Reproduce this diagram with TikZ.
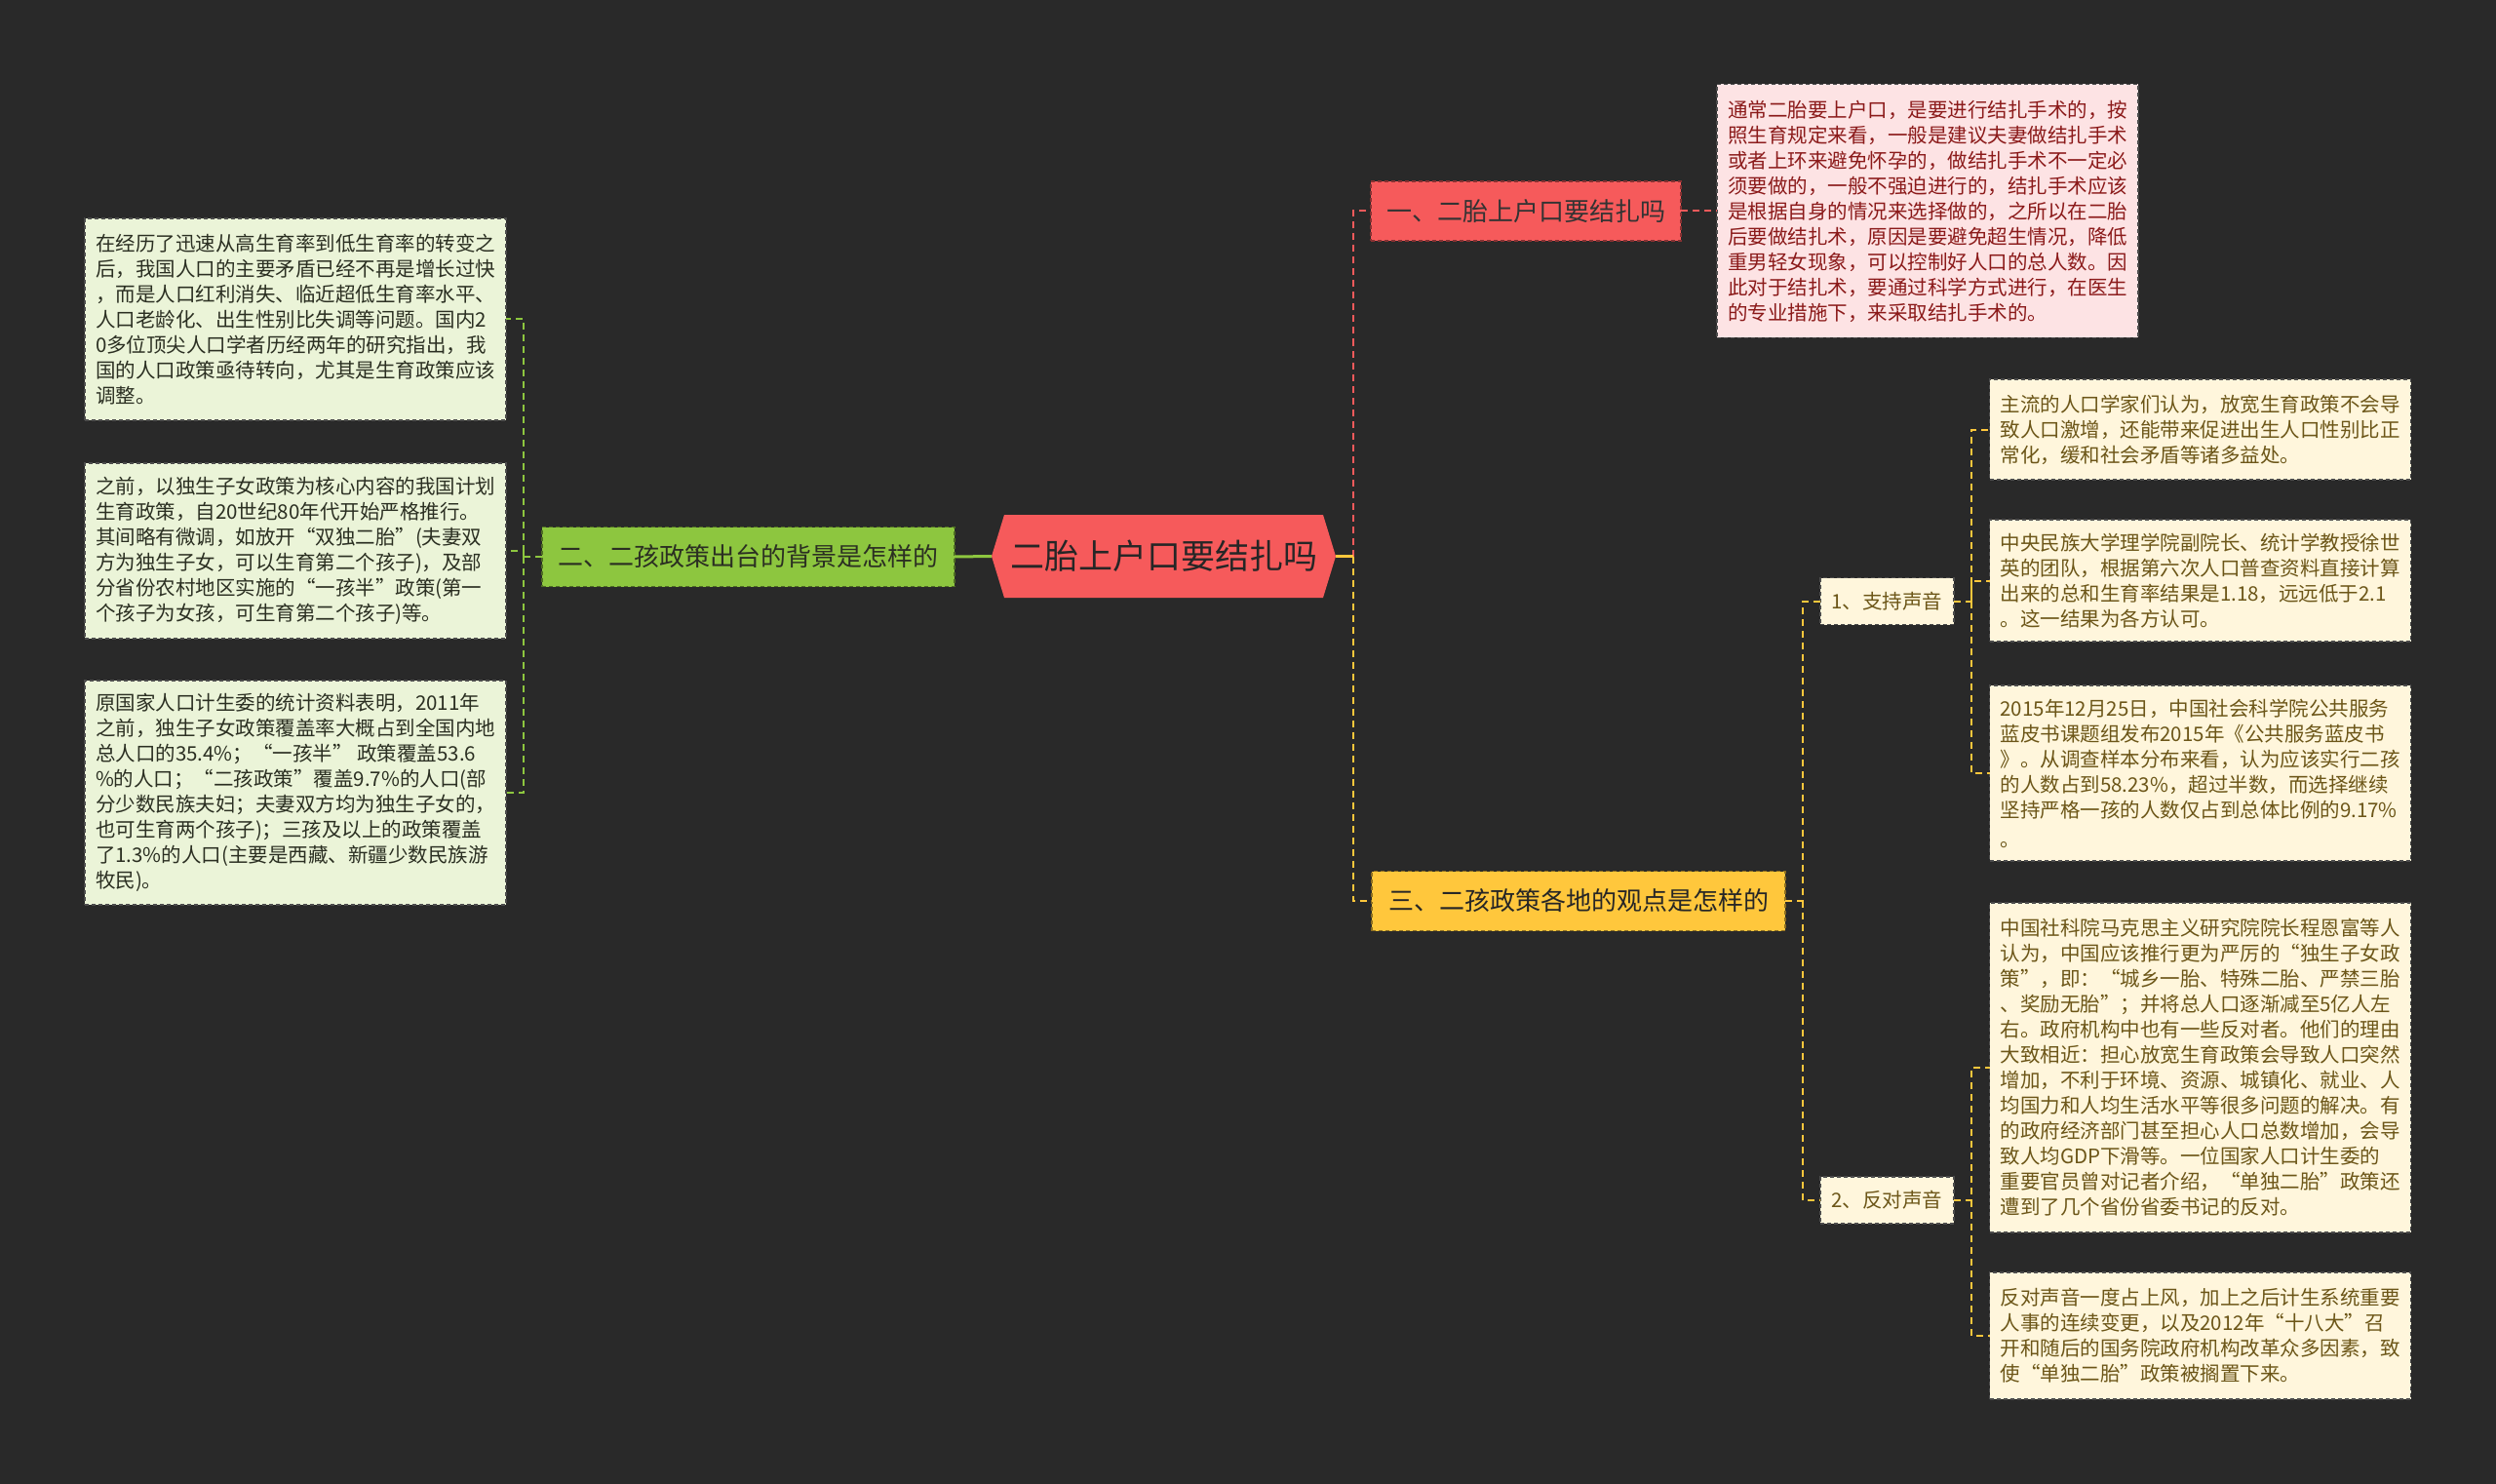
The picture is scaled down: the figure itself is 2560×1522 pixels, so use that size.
\documentclass[tikz,border=0pt]{standalone}
\usepackage{fontspec}
\setmainfont{Noto Sans CJK SC}
\usetikzlibrary{calc}

\definecolor{bgcol}{HTML}{292929}
\definecolor{redc}{HTML}{F65A5B}
\definecolor{redpale}{HTML}{FDE3E4}
\definecolor{redtext}{HTML}{8B1A1A}
\definecolor{greenc}{HTML}{8DC63F}
\definecolor{greenpale}{HTML}{EBF4D8}
\definecolor{greentext}{HTML}{2B2F22}
\definecolor{yelc}{HTML}{FFC73C}
\definecolor{creampale}{HTML}{FFF6DC}
\definecolor{browntext}{HTML}{6C5618}

\begin{document}
\begin{tikzpicture}[x=1pt,y=-1pt,
 every node/.style={inner sep=0pt,outer sep=0pt},
 detail/.style={draw=black!70,dash pattern=on 4pt off 3pt,line width=1.2pt,
  minimum width=432pt,align=left,font=\fontsize{20.5}{26}\selectfont},
 topic/.style={draw=#1!55!black,fill=#1,dash pattern=on 4pt off 3pt,line width=1.2pt,
  minimum height=61pt,font=\fontsize{26}{30}\selectfont},
 subtopic/.style={draw=black!70,fill=creampale,dash pattern=on 4pt off 3pt,line width=1.2pt,
  minimum width=137pt,minimum height=48pt,text=browntext,font=\fontsize{20.5}{26}\selectfont},
 rootbox/.style={fill=bgcol,minimum width=353pt,minimum height=85pt,
  text=black!85,font=\fontsize{35}{40}\selectfont,
  path picture={\fill[redc] (path picture bounding box.west)
   --([xshift=13pt]path picture bounding box.north west)
   --([xshift=-13pt]path picture bounding box.north east)
   --(path picture bounding box.east)
   --([xshift=-13pt]path picture bounding box.south east)
   --([xshift=13pt]path picture bounding box.south west)--cycle;}},
 link/.style={draw=#1,line width=2pt,dash pattern=on 7pt off 5pt},
 rootlink/.style={draw=#1,line width=3pt}]
 \useasboundingbox (0,0) rectangle (2560,1522);
 \fill[bgcol] (0,0) rectangle (2560,1522);

 \node[rootbox] (root) at (1193.5,570.5) {二胎上户口要结扎吗};

 \node[topic=greenc,minimum width=423pt,text=greentext] (bg) at (767.5,571) {二、二孩政策出台的背景是怎样的};
 \node[topic=redc,minimum width=318pt,text=black!80] (n1) at (1565,216.5) {一、二胎上户口要结扎吗};
 \node[topic=yelc,minimum width=424pt,text=black!85] (n3) at (1619,924) {三、二孩政策各地的观点是怎样的};
 \node[subtopic] (sup) at (1935.5,616.5) {1、支持声音};
 \node[subtopic] (opp) at (1935.5,1231) {2、反对声音};

 \node[detail,fill=greenpale,text=greentext,minimum height=207pt] (g1) at (303,327.5)
 {在经历了迅速从高生育率到低生育率的转变之\\后，我国人口的主要矛盾已经不再是增长过快\\，而是人口红利消失、临近超低生育率水平、\\人口老龄化、出生性别比失调等问题。国内2\\0多位顶尖人口学者历经两年的研究指出，我\\国的人口政策亟待转向，尤其是生育政策应该\\调整。};
 \node[detail,fill=greenpale,text=greentext,minimum height=180pt] (g2) at (303,565)
 {之前，以独生子女政策为核心内容的我国计划\\生育政策，自20世纪80年代开始严格推行。\\其间略有微调，如放开“双独二胎”(夫妻双\\方为独生子女，可以生育第二个孩子)，及部\\分省份农村地区实施的“一孩半”政策(第一\\个孩子为女孩，可生育第二个孩子)等。};
 \node[detail,fill=greenpale,text=greentext,minimum height=230pt] (g3) at (303,813)
 {原国家人口计生委的统计资料表明，2011年\\之前，独生子女政策覆盖率大概占到全国内地\\总人口的35.4\%；“一孩半” 政策覆盖53.6\\\%的人口；“二孩政策”覆盖9.7\%的人口(部\\分少数民族夫妇；夫妻双方均为独生子女的，\\也可生育两个孩子)；三孩及以上的政策覆盖\\了1.3\%的人口(主要是西藏、新疆少数民族游\\牧民)。};

 \node[detail,fill=redpale,text=redtext,minimum height=260pt] (rd) at (1977,216.5)
 {通常二胎要上户口，是要进行结扎手术的，按\\照生育规定来看，一般是建议夫妻做结扎手术\\或者上环来避免怀孕的，做结扎手术不一定必\\须要做的，一般不强迫进行的，结扎手术应该\\是根据自身的情况来选择做的，之所以在二胎\\后要做结扎术，原因是要避免超生情况，降低\\重男轻女现象，可以控制好人口的总人数。因\\此对于结扎术，要通过科学方式进行，在医生\\的专业措施下，来采取结扎手术的。};

 \node[detail,fill=creampale,text=browntext,minimum height=103pt] (s1) at (2256.5,440.5)
 {主流的人口学家们认为，放宽生育政策不会导\\致人口激增，还能带来促进出生人口性别比正\\常化，缓和社会矛盾等诸多益处。};
 \node[detail,fill=creampale,text=browntext,minimum height=125pt] (s2) at (2256.5,595.5)
 {中央民族大学理学院副院长、统计学教授徐世\\英的团队，根据第六次人口普查资料直接计算\\出来的总和生育率结果是1.18，远远低于2.1\\。这一结果为各方认可。};
 \node[detail,fill=creampale,text=browntext,minimum height=180pt] (s3) at (2256.5,793)
 {2015年12月25日，中国社会科学院公共服务\\蓝皮书课题组发布2015年《公共服务蓝皮书\\》。从调查样本分布来看，认为应该实行二孩\\的人数占到58.23\%，超过半数，而选择继续\\坚持严格一孩的人数仅占到总体比例的9.17\%\\[4pt]。};
 \node[detail,fill=creampale,text=browntext,minimum height=338pt] (o1) at (2256.5,1095)
 {中国社科院马克思主义研究院院长程恩富等人\\认为，中国应该推行更为严厉的“独生子女政\\策”，即：“城乡一胎、特殊二胎、严禁三胎\\、奖励无胎”；并将总人口逐渐减至5亿人左\\右。政府机构中也有一些反对者。他们的理由\\大致相近：担心放宽生育政策会导致人口突然\\增加，不利于环境、资源、城镇化、就业、人\\均国力和人均生活水平等很多问题的解决。有\\的政府经济部门甚至担心人口总数增加，会导\\致人均GDP下滑等。一位国家人口计生委的\\重要官员曾对记者介绍，“单独二胎”政策还\\遭到了几个省份省委书记的反对。};
 \node[detail,fill=creampale,text=browntext,minimum height=130pt] (o2) at (2256.5,1370)
 {反对声音一度占上风，加上之后计生系统重要\\人事的连续变更，以及2012年“十八大”召\\开和随后的国务院政府机构改革众多因素，致\\使“单独二胎”政策被搁置下来。};

 \coordinate (lj) at (537,571);
 \coordinate (rj) at (1388,570.5);
 \coordinate (tj) at (1849,924);
 \coordinate (sj) at (2022,616.5);
 \coordinate (oj) at (2022,1231);

 \draw[rootlink=greenc] (root.west) -- (bg.east);
 \draw[link=greenc] (bg.west) -- (lj) |- (g1.east);
 \draw[link=greenc] (lj) |- (g2.east);
 \draw[link=greenc] (lj) |- (g3.east);

 \draw[link=redc] (rj) |- (n1.west);
 \draw[link=yelc] (rj) |- (n3.west);
 \draw[rootlink=yelc] (root.east) -- (rj);
 \draw[link=redc] (n1.east) -- (rd.west);

 \draw[link=yelc] (n3.east) -- (tj) |- (sup.west);
 \draw[link=yelc] (tj) |- (opp.west);
 \draw[link=yelc] (sup.east) -- (sj) |- (s1.west);
 \draw[link=yelc] (sj) |- (s2.west);
 \draw[link=yelc] (sj) |- (s3.west);
 \draw[link=yelc] (opp.east) -- (oj) |- (o1.west);
 \draw[link=yelc] (oj) |- (o2.west);
\end{tikzpicture}
\end{document}
